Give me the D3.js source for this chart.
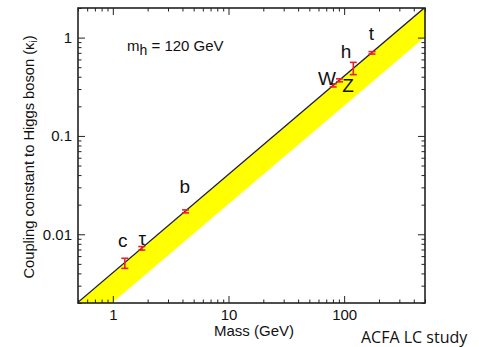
<!DOCTYPE html>
<html>
<head>
<meta charset="utf-8">
<script src="https://cdn.jsdelivr.net/npm/d3@7"></script>
<style>
  body { margin: 0; background: #fff; }
  svg text { font-family: "Liberation Sans", Arial, sans-serif; fill: #111; }
</style>
</head>
<body>
<div id="chart"></div>
<script>
// particle data: mass in GeV, coupling kappa with error range
var names = ['c', '\u03c4', 'b', 'W', 'Z', 'h', 't'];
var masses = [1.27, 1.78, 4.25, 80.4, 91.2, 120, 174];
var kappas = [0.0051, 0.0072, 0.0171, 0.327, 0.368, 0.49, 0.70];
var kappaLo = [0.0045, 0.0069, 0.0165, 0.315, 0.355, 0.42, 0.68];
var kappaHi = [0.0057, 0.0075, 0.0177, 0.339, 0.381, 0.56, 0.72];
var labelX = [1.22, 1.8, 4.2, 71, 108, 104, 172];
var labelY = [0.0075, 0.0078, 0.026, 0.33, 0.28, 0.62, 0.95];

var xTickVals = [1, 10, 100];
var xTickText = ['1', '10', '100'];
var yTickVals = [0.01, 0.1, 1];
var yTickText = ['0.01', '0.1', '1'];

var vev = 246; // kappa = m / v line
var massRange = [0.5, 500];

var width = 479, height = 347;
var margin = {top: 8, right: 54, bottom: 44, left: 78};
var w = width - margin.left - margin.right;
var h = height - margin.top - margin.bottom;

var svg = d3.select('#chart').append('svg')
    .attr('width', width)
    .attr('height', height);

var g = svg.append('g')
    .attr('transform', 'translate(' + margin.left + ',' + margin.top + ')');

var x = d3.scaleLog().domain(massRange).range([0, w]);
var y = d3.scaleLog().domain([0.002, 2]).range([h, 0]);

svg.append('clipPath').attr('id', 'clip')
    .append('rect').attr('width', w).attr('height', h);

// yellow band between kappa/2 and kappa
var area = d3.area()
    .x(function(d) { return x(d) })
    .y0(function(d) { return y(d / vev / 2) })
    .y1(function(d) { return y(d / vev) });

g.append('path')
    .attr('clip-path', 'url(#clip)')
    .attr('d', area(massRange))
    .style('fill', '#ffff00');

var line = d3.line()
    .x(function(d) { return x(d) })
    .y(function(d) { return y(d / vev) });

g.append('path')
    .attr('clip-path', 'url(#clip)')
    .attr('d', line(massRange))
    .style('fill', 'none')
    .style('stroke', '#1c1c3c')
    .style('stroke-width', 1.3);

// error bars
var pts = g.selectAll('.pt').data(masses).enter().append('g').attr('class', 'pt');
var cap = 3.5;
pts.append('line')
    .attr('x1', function(d) { return x(d) })
    .attr('x2', function(d) { return x(d) })
    .attr('y1', function(d, i) { return y(kappaLo[i]) })
    .attr('y2', function(d, i) { return y(kappaHi[i]) })
    .style('stroke', '#e8202a').style('stroke-width', 1.6);
pts.append('line')
    .attr('x1', function(d) { return x(d) - cap })
    .attr('x2', function(d) { return x(d) + cap })
    .attr('y1', function(d, i) { return y(kappaLo[i]) })
    .attr('y2', function(d, i) { return y(kappaLo[i]) })
    .style('stroke', '#e8202a').style('stroke-width', 1.6);
pts.append('line')
    .attr('x1', function(d) { return x(d) - cap })
    .attr('x2', function(d) { return x(d) + cap })
    .attr('y1', function(d, i) { return y(kappaHi[i]) })
    .attr('y2', function(d, i) { return y(kappaHi[i]) })
    .style('stroke', '#e8202a').style('stroke-width', 1.6);

// particle labels
g.selectAll('.plab').data(names).enter().append('text')
    .attr('x', function(d, i) { return x(labelX[i]) })
    .attr('y', function(d, i) { return y(labelY[i]) })
    .attr('text-anchor', 'middle')
    .style('font-size', '19px')
    .text(function(d) { return d });

// axes, ticks pointing inward on all four sides
var xMinor = [];
var yMinor = [];
[0.1, 1, 10, 100].forEach(function(dec) {
    for (var k = 2; k < 10; k++) {
        var v = dec * k;
        if (v >= massRange[0] && v <= massRange[1]) xMinor.push(v);
    }
});
[0.001, 0.01, 0.1, 1].forEach(function(dec) {
    for (var k = 2; k < 10; k++) {
        var v = dec * k;
        if (v >= 0.002 && v <= 2) yMinor.push(v);
    }
});

function styleAxis(sel) {
    sel.select('.domain').remove();
    sel.selectAll('line').style('stroke', '#222').style('stroke-width', 1);
    sel.selectAll('text').style('font-size', '15px').style('fill', '#111');
}

g.append('g').attr('transform', 'translate(0,' + h + ')')
    .call(d3.axisBottom(x).tickValues(xTickVals).tickFormat(function(d, i) { return xTickText[i] })
        .tickSizeInner(-7).tickPadding(6))
    .call(styleAxis);
g.append('g').attr('transform', 'translate(0,' + h + ')')
    .call(d3.axisBottom(x).tickValues(xMinor).tickFormat('').tickSizeInner(-3.5))
    .call(styleAxis);
g.append('g')
    .call(d3.axisTop(x).tickValues(xTickVals).tickFormat('').tickSizeInner(-7))
    .call(styleAxis);
g.append('g')
    .call(d3.axisTop(x).tickValues(xMinor).tickFormat('').tickSizeInner(-3.5))
    .call(styleAxis);

g.append('g')
    .call(d3.axisLeft(y).tickValues(yTickVals).tickFormat(function(d, i) { return yTickText[i] })
        .tickSizeInner(-7).tickPadding(6))
    .call(styleAxis);
g.append('g')
    .call(d3.axisLeft(y).tickValues(yMinor).tickFormat('').tickSizeInner(-3.5))
    .call(styleAxis);
g.append('g').attr('transform', 'translate(' + w + ',0)')
    .call(d3.axisRight(y).tickValues(yTickVals).tickFormat('').tickSizeInner(-7))
    .call(styleAxis);
g.append('g').attr('transform', 'translate(' + w + ',0)')
    .call(d3.axisRight(y).tickValues(yMinor).tickFormat('').tickSizeInner(-3.5))
    .call(styleAxis);

// frame
g.append('rect')
    .attr('width', w).attr('height', h)
    .style('fill', 'none').style('stroke', '#222').style('stroke-width', 1.6);

// annotation
var ann = g.append('text')
    .attr('x', 127 - margin.left)
    .attr('y', 51 - margin.top)
    .style('font-size', '15px');
ann.append('tspan').text('m');
ann.append('tspan').attr('dy', 4).style('font-size', '14px').text('h');
ann.append('tspan').attr('dy', -4).text(' = 120 GeV');

// axis titles
svg.append('text')
    .attr('x', 254)
    .attr('y', 336)
    .attr('text-anchor', 'middle')
    .style('font-size', '15px')
    .text('Mass (GeV)');

var yl = svg.append('text')
    .attr('transform', 'translate(34,157) rotate(-90)')
    .attr('text-anchor', 'middle')
    .style('font-size', '14.7px');
yl.append('tspan').text('Coupling constant to Higgs boson (\u03ba');
yl.append('tspan').attr('dy', 3).style('font-size', '10px').text('i');
yl.append('tspan').attr('dy', -3).text(')');

svg.append('text')
    .attr('x', 361)
    .attr('y', 343)
    .style('font-family', '"Open Sans", sans-serif')
    .style('font-size', '16px')
    .text('ACFA LC study');
</script>
</body>
</html>
